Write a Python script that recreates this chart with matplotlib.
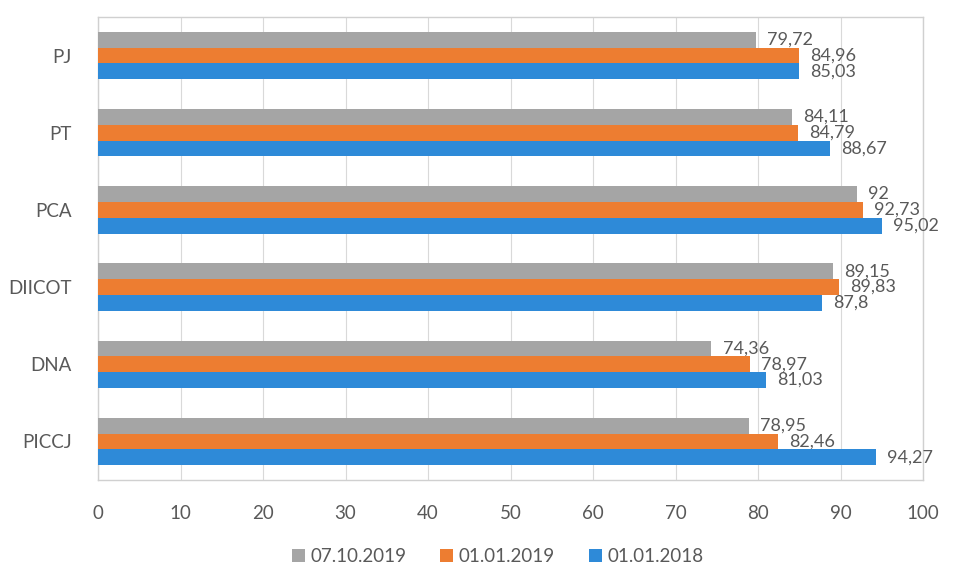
import matplotlib
matplotlib.use("Agg")
import matplotlib.pyplot as plt
import numpy as np

categories = ["PJ", "PT", "PCA", "DIICOT", "DNA", "PICCJ"]
series_names = ["07.10.2019", "01.01.2019", "01.01.2018"]
s_2019_10 = [79.72, 84.11, 92.00, 89.15, 74.36, 78.95]
s_2019_01 = [84.96, 84.79, 92.73, 89.83, 78.97, 82.46]
s_2018_01 = [85.03, 88.67, 95.02, 87.80, 81.03, 94.27]
labels_2019_10 = ["79,72", "84,11", "92", "89,15", "74,36", "78,95"]
labels_2019_01 = ["84,96", "84,79", "92,73", "89,83", "78,97", "82,46"]
labels_2018_01 = ["85,03", "88,67", "95,02", "87,8", "81,03", "94,27"]
x_ticks = [0, 10, 20, 30, 40, 50, 60, 70, 80, 90, 100]

plt.rcParams["font.family"] = ["Lato", "DejaVu Sans"]

colors = ["#A5A5A5", "#ED7D31", "#2E8AD8"]
text_color = "#595959"

fig = plt.figure(figsize=(9.57, 5.86), dpi=100)
ax = fig.add_axes([98/957, 1-480/586, (923-98)/957, (480-17)/586])

y = np.arange(len(categories))
h = 0.205
all_series = [s_2019_10, s_2019_01, s_2018_01]
all_labels = [labels_2019_10, labels_2019_01, labels_2018_01]
for i, (vals, labs, col, name) in enumerate(zip(all_series, all_labels, colors, series_names)):
    pos = y + (i - 1) * h
    ax.barh(pos, vals, height=h, color=col, label=name, zorder=3)
    for p, v, lab in zip(pos, vals, labs):
        ax.annotate(lab, (v, p), xytext=(8, 0), textcoords="offset points",
                    va="center", ha="left", fontsize=13, color=text_color)

ax.set_xlim(0, 100)
ax.set_ylim(len(categories) - 0.5, -0.5)
ax.set_xticks(x_ticks)
ax.set_xticklabels([str(t) for t in x_ticks])
ax.set_yticks(y)
ax.set_yticklabels(categories)
ax.tick_params(axis="both", length=0, labelsize=13.5, colors=text_color)
ax.tick_params(axis="x", pad=18)
ax.tick_params(axis="y", pad=19)
ax.grid(axis="x", color="#D9D9D9", linewidth=0.8, zorder=0)
for sp in ax.spines.values():
    sp.set_color("#D0D0D0")
    sp.set_linewidth(1.0)

fig.legend(loc="center", bbox_to_anchor=(0.52, 0.05), ncol=3, frameon=False,
           fontsize=13.5, labelcolor=text_color, handlelength=0.7, handleheight=0.7,
           handletextpad=0.3, columnspacing=1.8)

fig.savefig("out.png", dpi=100, facecolor="white")
